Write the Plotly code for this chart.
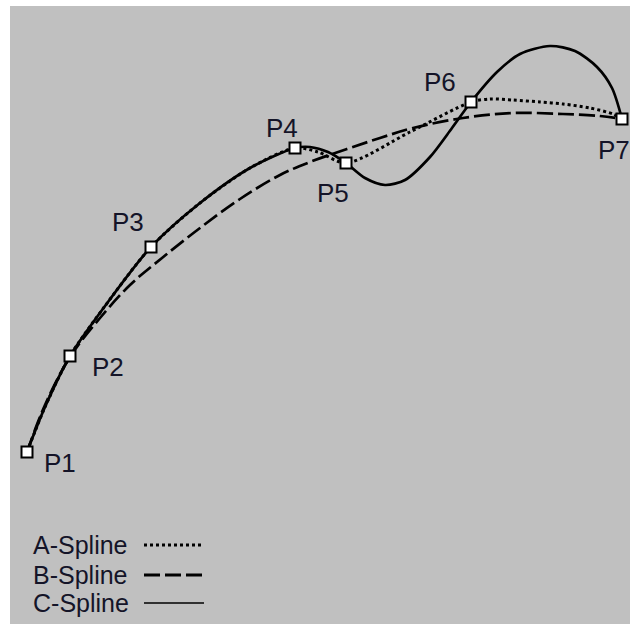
import plotly.graph_objects as go

# Control points (x, y) in chart units
point_labels = ["P1", "P2", "P3", "P4", "P5", "P6", "P7"]
point_x = [27, 70, 151, 295, 346, 471, 622]
point_y = [172, 268, 377, 476, 461, 522, 505]

# A-Spline (dotted)
a_x = [27, 45, 70, 105, 151, 200, 250, 295, 318, 346, 410, 471, 490, 513, 540, 563, 590, 613, 622]
a_y = [172, 217, 268, 318, 377, 421, 456, 476, 472, 461, 492, 522, 525, 524, 522, 520, 516, 510, 505]

# B-Spline (dashed)
b_x = [27, 45, 70, 100, 130, 162, 200, 240, 280, 310, 347, 380, 413, 463, 513, 563, 600, 622]
b_y = [172, 219, 267, 306, 339, 366, 396, 425, 449, 462, 475, 486, 496, 506, 511, 510, 508, 505]

# C-Spline (solid)
c_x = [27, 45, 70, 105, 151, 200, 250, 295, 310, 328, 346, 365, 385, 405, 430, 452, 471, 497, 520, 550, 575, 597, 612, 622]
c_y = [172, 217, 268, 318, 377, 421, 456, 476, 477, 472, 461, 446, 439, 444, 467, 496, 522, 552, 570, 578, 573, 557, 536, 505]

legend_names = ["A-Spline", "B-Spline", "C-Spline"]

fig = go.Figure()

fig.add_trace(go.Scatter(x=a_x, y=a_y, mode="lines", line=dict(color="black", width=3, dash="dot", shape="spline", smoothing=0.8), showlegend=False, hoverinfo="skip"))
fig.add_trace(go.Scatter(x=b_x, y=b_y, mode="lines", line=dict(color="black", width=2.7, dash="16px,5px", shape="spline", smoothing=1.0), showlegend=False, hoverinfo="skip"))
fig.add_trace(go.Scatter(x=c_x, y=c_y, mode="lines", line=dict(color="black", width=2.7, shape="spline", smoothing=0.8), showlegend=False, hoverinfo="skip"))

fig.add_trace(go.Scatter(x=point_x, y=point_y, mode="markers",
                         marker=dict(symbol="square", size=11, color="white", line=dict(color="black", width=2)),
                         showlegend=False, hoverinfo="skip"))

label_font = dict(family="Liberation Sans, Arial, sans-serif", size=26, color="#141428")
label_dx = [33, 38, -23, -13, -13, -31, -8]
label_dy = [-11, -11, 25, 20, -30, 20, -31]
for lab, px_, py_, dx, dy in zip(point_labels, point_x, point_y, label_dx, label_dy):
    fig.add_annotation(x=px_, y=py_, text=lab, showarrow=False, xshift=dx, yshift=dy,
                       font=label_font, xanchor="center", yanchor="middle")

# Legend (text on left, line sample on right)
leg_y = [79, 49, 21]
leg_dash = ["dot", "16px,5px", "solid"]
leg_w = [3, 3, 1.5]
for name, ly, d, w in zip(legend_names, leg_y, leg_dash, leg_w):
    fig.add_annotation(x=31, y=ly, text=name, showarrow=False, xanchor="left", yanchor="middle",
                       font=dict(family="Liberation Sans, Arial, sans-serif", size=25, color="#141428"))
    fig.add_shape(type="line", x0=144, x1=204, y0=ly, y1=ly, xref="x", yref="y",
                  line=dict(color="black", width=w, dash=d))

fig.update_layout(
    width=630, height=624, autosize=False,
    margin=dict(l=10, r=0, t=6, b=0, pad=0),
    paper_bgcolor="white", plot_bgcolor="#c0c0c0",
    xaxis=dict(range=[10, 630], visible=False, fixedrange=True),
    yaxis=dict(range=[0, 618], visible=False, fixedrange=True),
    showlegend=False,
)

fig.write_html("out.html", post_script="document.body.style.margin='0';", config={"displayModeBar": False})
